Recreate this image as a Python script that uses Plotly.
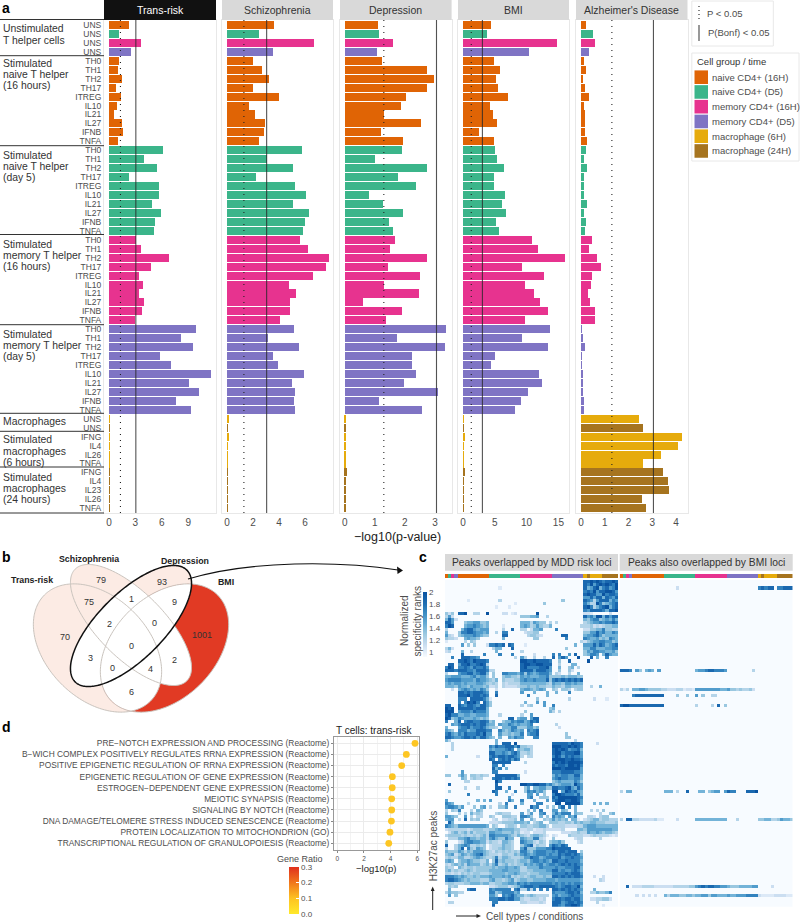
import numpy as np
import plotly.graph_objects as go

W, H = 800, 922
FONT = "Liberation Sans"
GREY = "#4d4d4d"

# ---------- panel a data ----------
row_labels = ["UNS"]*4 + ["TH0","TH1","TH2","TH17","ITREG","IL10","IL21","IL27","IFNB","TNFA"]*4 + \
    ["UNS","UNS","IFNG","IL4","IL26","TNFA","IFNG","IL4","IL23","IL26","TNFA"]
c_n16, c_n5, c_m16, c_m5, c_g, c_b = "#E06405", "#3BB58A", "#E7338F", "#7F74C4", "#E6AB0C", "#A6741F"
row_colors = [c_n16, c_n5, c_m16, c_m5] + [c_n16]*10 + [c_n5]*10 + [c_m16]*10 + [c_m5]*10 + \
    [c_g, c_b, c_g, c_g, c_g, c_g, c_b, c_b, c_b, c_b, c_b]
legend_names = ["naive CD4+ (16H)", "naive CD4+ (D5)", "memory CD4+ (16H)", "memory CD4+ (D5)", "macrophage (6H)", "macrophage (24H)"]
legend_colors = [c_n16, c_n5, c_m16, c_m5, c_g, c_b]

trans_risk = [2.23,1.12,3.59,2.48, 1.13,1.02,1.44,0.80,1.33,0.92,0.53,1.44,1.59,0.98,
    6.11,4.02,5.45,2.31,5.64,5.68,4.85,5.87,5.26,5.14,
    3.07,3.60,6.78,4.78,3.38,3.90,3.41,4.02,3.72,3.00,
    9.93,8.15,9.58,5.75,7.00,11.58,9.09,10.23,7.66,9.36,
    0.06,0.04,0.03,0.03,0.03,0.03,0.05,0.04,0.03,0.03,0.04]
schizophrenia = [3.59,2.44,6.69,3.56, 2.03,2.69,3.21,2.00,4.00,1.69,2.15,2.95,2.85,2.46,
    5.77,3.05,5.05,2.23,5.23,6.08,5.10,6.31,6.03,5.87,
    5.62,6.21,7.85,7.59,6.64,4.79,5.33,4.85,4.87,4.08,
    5.15,3.13,5.51,3.56,3.90,5.92,5.00,5.26,5.15,5.21,
    0.08,0.05,0.15,0.03,0.03,0.03,0.05,0.06,0.03,0.03,0.05]
depression = [1.09,1.14,1.59,1.06, 1.24,2.73,2.98,2.73,2.02,1.87,1.31,2.55,1.22,1.93,
    1.90,1.01,2.75,1.77,2.37,0.81,1.28,1.93,1.47,1.62,
    1.67,1.49,2.75,1.45,2.51,1.31,2.48,0.62,1.89,1.37,
    3.37,1.73,3.32,2.22,2.24,2.38,1.97,3.09,1.15,2.57,
    0.04,0.03,0.04,0.03,0.02,0.02,0.06,0.03,0.02,0.02,0.02]
bmi = [4.35,3.77,14.78,10.38, 4.87,5.82,5.15,5.46,7.02,4.25,4.78,5.35,2.46,4.87,
    4.98,5.35,6.39,4.87,4.82,6.55,6.08,6.71,5.15,5.66,
    10.90,11.80,15.98,9.28,12.69,9.75,11.11,12.11,13.38,9.75,
    13.68,9.22,13.32,5.08,4.46,11.95,12.37,10.22,9.17,8.17,
    0.15,0.08,0.18,0.05,0.10,0.10,0.20,0.10,0.08,0.08,0.10]
alzheimers = [0.21,0.50,0.59,0.34, 0.13,0.20,0.08,0.15,0.34,0.13,0.18,0.18,0.18,0.25,
    0.20,0.13,0.27,0.13,0.13,0.13,0.24,0.14,0.21,0.15,
    0.46,0.32,0.67,0.84,0.46,0.41,0.31,0.39,0.59,0.57,
    0.04,0.07,0.17,0.04,0.03,0.08,0.07,0.08,0.11,0.13,
    2.44,2.62,4.27,4.10,3.37,2.63,3.46,3.66,3.70,2.58,2.74]
trait_names = ["Trans-risk", "Schizophrenia", "Depression", "BMI", "Alzheimer's Disease"]
trait_values = [trans_risk, schizophrenia, depression, bmi, alzheimers]
p_nominal, p_bonf = 1.3, 3.05
trait_ticks = [[0,3,6,9],[0,2,4,6],[0,1,2,3],[0,5,10,15],[0,1,2,3,4]]
group_text = [("Unstimulated",29),("T helper cells",40),
    ("Stimulated",63),("naive T helper",74.7),("(16 hours)",85.6),
    ("Stimulated",155),("naive T helper",166),("(day 5)",177.5),
    ("Stimulated",244.5),("memory T helper",256),("(16 hours)",267),
    ("Stimulated",334),("memory T helper",345.5),("(day 5)",356.7),
    ("Macrophages",421),
    ("Stimulated",440),("macrophages",451.5),("(6 hours)",462.5),
    ("Stimulated",477),("macrophages",488),("(24 hours)",499)]
venn_counts = [("79",100.7,580),("93",162.3,581.7),("75",89,602),("1",131.7,599),("9",174,602),
    ("70",65.3,636.7),("2",109,623.5),("0",154,623),("1001",202,634.5),("0",131.3,645.7),
    ("3",90,658),("2",174.3,660),("0",113,668),("4",150,668.5),("6",131,692)]

# ---------- panel d data ----------
go_terms = ["PRE\u2212NOTCH EXPRESSION AND PROCESSING (Reactome)",
    "B\u2212WICH COMPLEX POSITIVELY REGULATES RRNA EXPRESSION (Reactome)",
    "POSITIVE EPIGENETIC REGULATION OF RRNA EXPRESSION (Reactome)",
    "EPIGENETIC REGULATION OF GENE EXPRESSION (Reactome)",
    "ESTROGEN\u2212DEPENDENT GENE EXPRESSION (Reactome)",
    "MEIOTIC SYNAPSIS (Reactome)",
    "SIGNALING BY NOTCH (Reactome)",
    "DNA DAMAGE/TELOMERE STRESS INDUCED SENESCENCE (Reactome)",
    "PROTEIN LOCALIZATION TO MITOCHONDRION (GO)",
    "TRANSCRIPTIONAL REGULATION OF GRANULOPOIESIS (Reactome)"]
go_logp = [5.83,5.18,4.83,4.13,4.12,4.08,4.08,4.06,3.95,3.86]
go_ratio = [0.09,0.09,0.09,0.09,0.09,0.09,0.09,0.09,0.09,0.09]

# ---------- panel c data: one digit per cell, 0 = background, 9 = strongest rank ----------
mdd_rows = """
0000 0000000000 0000000000 0000000000 0000000000 88989878898
0000 0000000000 0000000000 0000000000 0000000000 87968989879
0000 0000000000 0001000000 0000000000 0000000000 85689578679
0000 0000000000 0000000000 0000000000 0000000000 78796889986
0000 0000000000 0000000000 0000000000 0000000000 89886697887
0000 0000000000 0000000000 0000000000 0000000000 66868858768
0000 0001000000 0003000000 0000000000 0004000000 87636888576
0000 0000000000 0000000010 0000000400 0000000000 75339745678
0000 0000000000 0010001000 0000000000 0000000000 89735789578
0000 0000000000 0000000000 0000000000 0000000000 76888875889
4240 8890033009 0000220120 0000090000 0000000000 22100000200
3620 0000000000 0000000000 4445560030 0000000000 86759958688
5862 0000000000 0000000000 0000000000 0000000000 54677456575
8860 0045566445 0000000000 5553654403 0300000000 34566767787
7980 0056676545 0000100000 5653464335 0000000003 33423234455
3000 0578865666 0000300800 3302556000 0700000000 22445574433
5000 4778876656 0030770000 0233440000 0000000000 44668675576
6320 4566676544 0000880000 0034432000 0008800000 56678645555
4332 0056554000 0000500000 0000440000 0000700000 76556454765
1000 0030430000 0000000000 0000000000 0000000003 24566776645
0000 0604040002 7787808700 0100000000 0000000500 66686875678
3520 0000000000 0355000800 0000000000 0000400000 55775556677
2300 0500300000 0050000000 3000000000 0000000000 46577665564
0000 0800000070 0007000700 0000200000 7070060800 45776058655
0070 0888776000 0000000030 6300300300 8068600090 00805007000
0000 8898798887 0000000000 9988988887 0040080000 09000000000
0880 6889778983 0000000000 8998899888 0030005500
7980 7787687786 0000000000 8977778896 0050045030
8887 8887768887 3300000000 8888688876 0040042000
3000 6778867885 0400776665 7476567775 0320030050
5566 6555675664 0400455443 6565556674 4445455544
6777 7666657665 4350433344 6766766684 7878787878
5656 6565556654 3430323333 5555555543 6554665655
5554 6554655545 2230322223 4454454433 5443554444 00300500000
0020 5676565764 0020000000 5665456500 4304430344
0000 8878788876 0070000000 6000500050 0500070000
0000 8889788787 0080000000 0070000050 0000000000
0000 7770888875 1000000000 0000040000 0000030000 00020001000
0000 7079897086 4000000000 0500060600 0000000000
8800 8768876886 4000000000 3034000600 7000000000
9890 8888878885 0000000000 0000000004 5000000000
9990 6777687775 0000000000 0400000005 3030000000
8977 5566556665 0003000000 3006000000 0000000000
9845 7655565454 0000008805 6606880000 0000000000
7005 8078877887 4500455767 7568780000 0000000000
0065 7888787886 5506557656 5567000000 0300000000
5000 6778677875 4430555774 4466450000 0020000000
6540 7775668887 7007545765 6076780000 0000000000
7865 7687778796 6006445455 7067780000 0000400000
8876 6788786886 5405006576 6000770000 0000440000
5300 0000000000 0050000000 0000000000 0000000300
0030 0000000000 0050888090 0000000000 8888879887 00002000000
0030 0000000000 7687788868 4433000000 9998898987
0030 0000000000 6566678705 4553000000 8989867785
0000 0000000000 8866765786 3343000000 8997888996
5000 0000002000 7878878876 3033000000 7986878776
0000 0000000000 8707878687 0000000000 9999889887
0000 0000000000 0888888000 0300000000 7989899998
0000 0000000000 0770700000 0000000000 8788799897
0000 0000000000 0857050000 0000000000 9998999996
0000 0600000000 0770000000 0200000000 7778888776
4400 4640443433 0088888885 0000000000 5767766885
0000 0540343300 0788788787 0000000000 6787766775
0000 0033000000 0097000000 0000000000 4565555764
0800 0000000000 0080000000 9988998867 5456665976
0000 0030003000 0088007000 0460556644 8877896586
0400 0000000000 0870050070 0476756400 9906987865
0000 0007000000 0070000200 0066060400 7998777685
0000 0000000000 0000006000 0067004440 8799999987
6000 0000005050 6000007500 7000500060 7899889986
7650 0003000000 0003070000 5000077000 0990999996 00050505000
6776 4600040560 3004460070 0008670040 4068070500 00000000000
3043 7000305400 0000000000 0040507000 6605400500 00303040000
4000 3030534300 0034333000 6036006700 5757770544 00000300450
6654 0060303300 4300444330 7764005040 7565065700 03320344000
5660 3080434000 0230223340 6005300434 6454505510 23455344333
0850 0000000000 2223444455 5450345004 4433443545 44554443334
7654 6666666665 0430034430 4433445530 3333222233 56665555555
2333 3332344433 4456555544 2233122322 2223000055 46666666655
0245 3453534443 6655444534 1220222300 0002223343 36556545543
3444 4343343453 7766665435 4324554310 2100043333 22343333212
0333 5567554553 6754475500 6544773200 4000000233 00000300000
4000 2367766552 4332554300 7655324304 5564000023 00000000000
8003 5676334340 2333544300 4678243306 8768700000 00000000000
3003 5807436540 2334544300 6844466677 9888880000
5444 6535466654 3243434343 7754677766 7688788804
4562 4654567854 3332443354 6765677767 6687887875
3433 5533456543 3473554333 4668775677 7786778776
5650 4556544335 0484544434 5546776765 8877877775
3245 4536555345 3573453434 4656567567 7678787876
4330 5434434444 4545565565 3355557666 6766777885
4534 3345434444 5555665555 3344555566 8867667875
3323 2434344333 4555545565 4434445555 7777878886
7776 5654454555 6555656343 4345544544 8878787887 00020020000
7887 6545444333 5644345634 5544555566 6566666665 00000320000
3443 3344555455 3344556657 6767777777 6767676776
0434 0000000000 2234442345 7888778888 8767887795
0500 0007880000 7677777078 3373707070 8878787876 00050000000
3544 3300000000 7745777756 0000000000 7666788785 00335445700
0604 0000000000 6640767865 5345433330 6756678776 00000000000
0000 0000000000 7778878866 3223332300 7887887886 00223344200
0330 0000000000 0770000000 3322223200 8886788787 00003000000
0000 0000000000 0800000000 0000000000 8876889986 00000010000
""".strip().split("\n")
bmi_row_index = [2, 28, 34, 36, 39, 66, 75, 96, 99]
bmi_rows = [
"0000 0000000000 0000200000 0000000000 0000000000 78788077888",
"8887 0640565060 0000000000 5667887776 0000000030",
"3130 5566544443 3222331221 6666666655 6443433420",
"0000 7888888888 0000400400 6040033000",
"8998 8888888888 0000000000 3000030804",
"3055 0000000000 5550300800 0550456606 8770008889",
"3088 3322222311 0000200000 5555555555 0003000000 44553346554",
"0080 2223333222 2223333344 6787887766 5444555566 00002000000",
"0000 0202020200 5355544554 5566466555 6556667777 21111222211"]
column_group = [0,1,2,3] + [0]*10 + [1]*10 + [2]*10 + [3]*10 + [4,5,4,4,4,4,5,5,5,5,5]

# ---------- helpers ----------
def px(x): return x / W
def py(y): return 1 - y / H
def dx(a, b): return [px(a), px(b)]
def dy(a, b): return [py(b), py(a)]
def suf(k): return "" if k == 1 else str(k)

fig = go.Figure()
ann, shp, lay = [], [], {}

def text(s, x, y, size=10, color=GREY, xanchor="left", bold=False, angle=0):
    ann.append(dict(text=f"<b>{s}</b>" if bold else s, x=px(x), y=py(y), xref="paper", yref="paper",
                    showarrow=False, xanchor=xanchor, yanchor="middle", textangle=angle,
                    font=dict(size=size, color=color, family=FONT)))

def rect(x0, y0, x1, y1, fill, line=None, lw=1):
    shp.append(dict(type="rect", xref="paper", yref="paper", x0=px(x0), x1=px(x1), y0=py(y0), y1=py(y1),
                    fillcolor=fill, line=dict(color=line or "rgba(0,0,0,0)", width=lw if line else 0), layer="above"))

def seg(x0, y0, x1, y1, color="black", lw=1, dash="solid"):
    shp.append(dict(type="line", xref="paper", yref="paper", x0=px(x0), x1=px(x1), y0=py(y0), y1=py(y1),
                    line=dict(color=color, width=lw, dash=dash), layer="above"))

def poly(points, fill="rgba(0,0,0,0)", line=None, lw=1):
    p = "M " + " L ".join(f"{px(x):.5f} {py(y):.5f}" for x, y in points) + " Z"
    shp.append(dict(type="path", xref="paper", yref="paper", path=p, fillcolor=fill,
                    line=dict(color=line or "rgba(0,0,0,0)", width=lw if line else 0), layer="above"))

# ---------- panel a ----------
panels = [(104,216,109,8.8),(222,333,227,13.0),(340,451.6,344.7,30.1),(458,569,463,6.36),(576,687.5,581,23.75)]
rows = list(range(len(row_labels)))
for i, (name, vals, ticks, (x0, x1, zero, scale)) in enumerate(zip(trait_names, trait_values, trait_ticks, panels)):
    k = i + 1
    s_ = suf(k)
    fig.add_trace(go.Bar(y=rows, x=vals, orientation="h", width=0.9, marker=dict(color=row_colors, line=dict(width=0)),
                         xaxis=f"x{s_}", yaxis=f"y{s_}", showlegend=False, hoverinfo="skip"))
    lay[f"xaxis{s_}"] = dict(domain=dx(x0, x1), range=[(x0-zero)/scale, (x1-zero)/scale], anchor=f"y{s_}",
        tickvals=ticks, ticks="", showgrid=False, zeroline=False, showline=True, mirror=True, linecolor="#e8e8e8",
        linewidth=1, tickfont=dict(size=10, color=GREY, family=FONT))
    lay[f"yaxis{s_}"] = dict(domain=dy(20, 513), range=[54.53, -0.56], anchor=f"x{s_}", showgrid=False, zeroline=False,
        showline=True, mirror=True, linecolor="#e8e8e8", linewidth=1, ticks="",
        tickmode="array", tickvals=rows if i == 0 else [], ticktext=row_labels if i == 0 else [],
        tickfont=dict(size=8.5, color=GREY, family=FONT))
    shp.append(dict(type="line", xref=f"x{s_}", yref=f"y{s_} domain", x0=p_nominal, x1=p_nominal, y0=0, y1=1,
                    line=dict(color="#222", width=1.1, dash="1px,5px"), layer="above"))
    shp.append(dict(type="line", xref=f"x{s_}", yref=f"y{s_} domain", x0=p_bonf, x1=p_bonf, y0=0, y1=1,
                    line=dict(color="rgba(40,40,40,0.8)", width=1.1), layer="above"))
    rect(x0, 0, x1, 20, "#111111" if i == 0 else "#d9d9d9")
    text(name, (x0+x1)/2, 10, 10.5, "white" if i == 0 else "#333333", "center")

text("\u2212log10(p-value)", 397, 536.5, 12.5, "#222222", "center")
for y in [19.5, 55.7, 145.7, 234.5, 324.7, 413.3, 431.3, 467, 513]:
    seg(0, y, 104, y, "#333333", 1)
for s, y in group_text:
    text(s, 0.5, y, 10.4, "#333333")

# legends of panel a
rect(691.8, 1, 773.3, 46, "white", "#e8e8e8")
seg(699, 6, 699, 22, "#222", 1.1, "1px,3px")
seg(699, 25, 699, 41, "#444", 1.1)
text("P < 0.05", 705, 14, 9.5)
text("P(Bonf) < 0.05", 706, 32.6, 9.5)
rect(691.8, 53, 799, 161, "white", "#e8e8e8")
text("Cell group / time", 695, 61.6, 9.5, "#333333")
for i, (n, c) in enumerate(zip(legend_names, legend_colors)):
    yc = 77.2 + 14.75 * i
    rect(694.5, yc-6.8, 708, yc+6.8, c)
    text(n, 710, yc, 9.5)

# ---------- panel b ----------
def ellipse(cx, cy, a, b, deg, n=240):
    t = np.linspace(0, 2*np.pi, n, endpoint=False)
    r = np.radians(deg)
    return np.c_[cx + a*np.cos(t)*np.cos(r) - b*np.sin(t)*np.sin(r),
                 cy + a*np.cos(t)*np.sin(r) + b*np.sin(t)*np.cos(r)]

def inside(pts, e):
    cx, cy, a, b, deg = e
    r = np.radians(deg)
    u = (pts[:,0]-cx)*np.cos(r) + (pts[:,1]-cy)*np.sin(r)
    v = -(pts[:,0]-cx)*np.sin(r) + (pts[:,1]-cy)*np.cos(r)
    return (u/a)**2 + (v/b)**2 <= 1

E_trans = (97.5, 648, 75, 51, 45)
E_schz = (131, 625, 79, 33, 45)
E_dep = (131, 626, 79, 33, -45)
E_bmi = (164.5, 648, 75, 51, -45)
PINK, RED, VENN_LINE = "#FCEBE4", "#E13A24", "#c9c3bd"
for e, c in [(E_trans, PINK), (E_schz, PINK), (E_dep, PINK), (E_bmi, RED)]:
    poly(ellipse(*e), fill=c)
for a_, b_ in [(E_schz, E_dep), (E_trans, E_dep), (E_trans, E_bmi), (E_schz, E_bmi), (E_dep, E_bmi)]:
    pa, pb = ellipse(*a_), ellipse(*b_)
    pts = np.r_[pa[inside(pa, b_)], pb[inside(pb, a_)]]
    c = pts.mean(axis=0)
    pts = pts[np.argsort(np.arctan2(pts[:,1]-c[1], pts[:,0]-c[0]))]
    poly(pts, fill="white")
for e in [E_trans, E_schz, E_bmi]:
    poly(ellipse(*e), line=VENN_LINE, lw=1)
poly(ellipse(*E_dep), line="#111111", lw=1.5)
for s, x, y in venn_counts:
    text(s, x, y, 9, "#333333", "center")
text("Schizophrenia", 89, 559, 8.8, "#222222", "center", True)
text("Depression", 185, 561, 8.8, "#222222", "center", True)
text("Trans-risk", 32, 580, 8.8, "#222222", "center", True)
text("BMI", 226, 581.7, 8.8, "#222222", "center", True)
# arrow from panel b to c
s0 = f"M {px(188):.5f} {py(579):.5f} C {px(250):.5f} {py(560):.5f} {px(340):.5f} {py(561):.5f} {px(398):.5f} {py(570):.5f}"
shp.append(dict(type="path", xref="paper", yref="paper", path=s0, line=dict(color="#111", width=1.2), layer="above"))
poly([(403, 570.5), (397, 566.5), (397.5, 574)], fill="#111111")

# ---------- panel c ----------
LEVELS = 0.93
def to_matrix(strings):
    out = []
    for s in strings:
        s = s.replace(" ", "").ljust(55, "0")[:55]
        out.append([LEVELS if ch == "0" else 1 + (int(ch)/9)**1.4 for ch in s])
    return out

mdd_z = to_matrix(mdd_rows)
bmi_z = to_matrix([""] * len(mdd_rows))
for idx, s in zip(bmi_row_index, bmi_rows):
    bmi_z[idx] = to_matrix([s])[0]

BLUES = [[0, "#f7fbff"], [0.08, "#e3eef9"], [0.2, "#c6dbef"], [0.35, "#9ecae1"], [0.5, "#6baed6"],
         [0.65, "#4292c6"], [0.8, "#2171b5"], [1, "#0a53a0"]]
strip_scale = []
for i, c in enumerate(legend_colors):
    strip_scale += [[i/6, c], [(i+1)/6, c]]

panel_c = [(445, 618, "Peaks overlapped by MDD risk loci", mdd_z), (619.7, 792.7, "Peaks also overlapped by BMI loci", bmi_z)]
k = 6
for j, (x0, x1, title, z) in enumerate(panel_c):
    fig.add_trace(go.Heatmap(z=[[g + 0.5 for g in column_group]], zmin=0, zmax=6, colorscale=strip_scale, showscale=False,
                             xaxis=f"x{k}", yaxis=f"y{k}", hoverinfo="skip"))
    lay[f"xaxis{k}"] = dict(domain=dx(x0, x1), anchor=f"y{k}", visible=False, range=[-0.5, 54.5])
    lay[f"yaxis{k}"] = dict(domain=dy(574, 578.3), anchor=f"x{k}", visible=False)
    k += 1
    hm = dict(colorscale=BLUES, zmin=LEVELS, zmax=2, xaxis=f"x{k}", yaxis=f"y{k}", hoverinfo="skip")
    if j == 0:
        hm.update(showscale=True, colorbar=dict(x=px(422.7), xanchor="left", y=py(656.7), yanchor="bottom",
                  thickness=4.2, thicknessmode="pixels", len=64.5, lenmode="pixels", xpad=0, ypad=0,
                  tickvals=[1, 1.2, 1.4, 1.6, 1.8, 2], ticktext=["1", "1.2", "1.4", "1.6", "1.8", "2"], ticks="",
                  outlinewidth=0, tickfont=dict(size=8, color=GREY, family=FONT)))
    else:
        hm.update(showscale=False)
    fig.add_trace(go.Heatmap(z=z, **hm))
    lay[f"xaxis{k}"] = dict(domain=dx(x0, x1), anchor=f"y{k}", visible=False, range=[-0.5, 54.5])
    lay[f"yaxis{k}"] = dict(domain=dy(580, 906.7), anchor=f"x{k}", visible=False, range=[len(z)-0.5, -0.5])
    k += 1
    rect(x0, 554, x1, 570.7, "#d9d9d9")
    text(title, (x0+x1)/2, 562.3, 10.3, "#333333", "center")

text("Normalized", 404, 621, 10, GREY, "center", angle=-90)
text("specificity ranks", 416.5, 621, 10, GREY, "center", angle=-90)
text("H3K27ac peaks", 433.3, 846, 10, GREY, "center", angle=-90)
text("Cell types / conditions", 484, 916, 10, GREY)
seg(432.7, 910, 432.7, 890, "#222", 1)
poly([(432.7, 886.5), (430.8, 891), (434.6, 891)], fill="#222222")
seg(456, 916, 477, 916, "#222", 1)
poly([(481, 916), (476.5, 914), (476.5, 918)], fill="#222222")

# ---------- panel d ----------
RATIO = [[0, "#FFE92B"], [0.33, "#FDC322"], [0.66, "#F1781C"], [1, "#E0301E"]]
ylist = list(range(len(go_terms)))
fig.add_trace(go.Scatter(x=go_logp, y=ylist, mode="markers", xaxis=f"x{k}", yaxis=f"y{k}", hoverinfo="skip", showlegend=False,
    marker=dict(size=6.8, color=go_ratio, cmin=0, cmax=0.3, colorscale=RATIO, line=dict(width=0), showscale=True,
        colorbar=dict(x=px(289.3), xanchor="left", y=py(914), yanchor="bottom", thickness=9.5, thicknessmode="pixels",
            len=47, lenmode="pixels", xpad=0, ypad=0, tickvals=[0, 0.1, 0.2, 0.3], ticktext=["0.0", "0.1", "0.2", "0.3"],
            ticks="inside", ticklen=3, tickcolor="white", tickwidth=0.6, outlinewidth=0,
            tickfont=dict(size=8, color=GREY, family=FONT)))))
lay[f"xaxis{k}"] = dict(domain=dx(334, 419), anchor=f"y{k}", range=[-0.25, 6.13], tickvals=[0, 2, 4, 6], ticks="outside", ticklen=2,
    tickcolor="#888", gridcolor="#ebebeb", zeroline=False, showline=True, mirror=True, linecolor="#999", linewidth=1,
    minor=dict(dtick=1, showgrid=True, gridcolor="#f3f3f3"), tickfont=dict(size=6.5, color=GREY, family=FONT))
lay[f"yaxis{k}"] = dict(domain=dy(737.3, 850), anchor=f"x{k}", range=[9.6, -0.54], tickmode="array", tickvals=ylist, ticktext=go_terms,
    ticks="outside", ticklen=2, tickcolor="#888", gridcolor="#ebebeb", zeroline=False, showline=True, mirror=True,
    linecolor="#999", linewidth=1, tickfont=dict(size=8.4, color=GREY, family=FONT))
text("T cells: trans-risk", 334, 730.5, 10, "#222222")
text("\u2212log10(p)", 376, 868, 9.5, "#222222", "center")
text("Gene Ratio", 300, 859, 9, GREY, "center")

# panel letters
for s, x, y in [("a", 0, 8), ("b", 0, 556.5), ("c", 417, 557), ("d", 0, 727)]:
    text(s, x, y, 14, "black", "left", True)

fig.update_layout(template="none", width=W, height=H, margin=dict(l=0, r=0, t=0, b=0, pad=0), paper_bgcolor="white", plot_bgcolor="white",
                  showlegend=False, annotations=ann, shapes=shp, bargap=0, font=dict(family=FONT), **lay)
fig.write_html("out.html", config={"displayModeBar": False},
               post_script="document.body.style.margin='0';window.dispatchEvent(new Event('resize'));")
